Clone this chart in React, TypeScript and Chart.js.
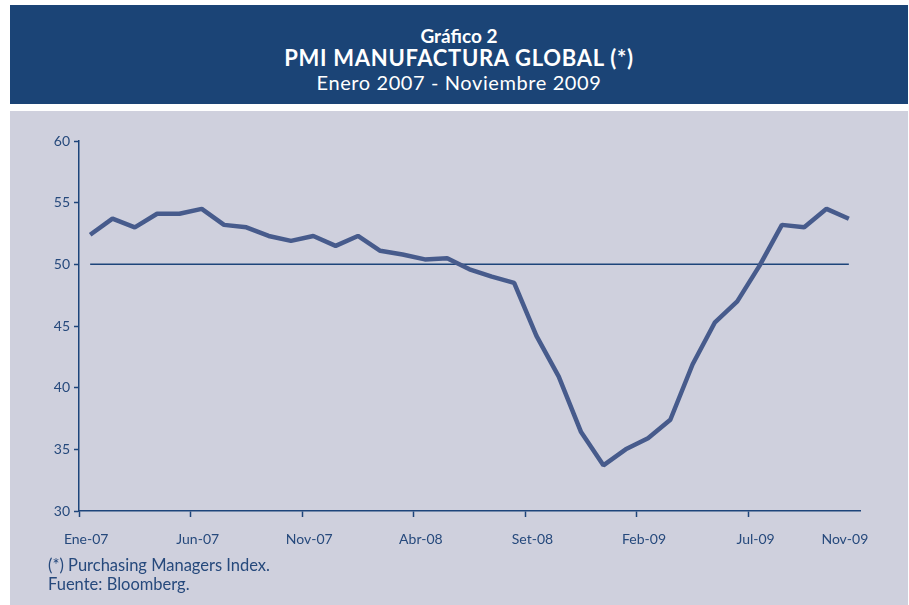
import React, { useEffect, useRef } from "react";
import { Chart, registerables } from "chart.js";

Chart.register(...registerables);

const months = [
  "Ene-07", "Feb-07", "Mar-07", "Abr-07", "May-07", "Jun-07", "Jul-07", "Ago-07", "Set-07", "Oct-07", "Nov-07", "Dic-07",
  "Ene-08", "Feb-08", "Mar-08", "Abr-08", "May-08", "Jun-08", "Jul-08", "Ago-08", "Set-08", "Oct-08", "Nov-08", "Dic-08",
  "Ene-09", "Feb-09", "Mar-09", "Abr-09", "May-09", "Jun-09", "Jul-09", "Ago-09", "Set-09", "Oct-09", "Nov-09",
];

const pmi = [
  52.4, 53.7, 53.0, 54.1, 54.1, 54.5, 53.2, 53.0, 52.3, 51.9, 52.3, 51.5,
  52.3, 51.1, 50.8, 50.4, 50.5, 49.6, 49.0, 48.5, 44.2, 40.9, 36.4, 33.7,
  35.0, 35.9, 37.4, 41.9, 45.3, 47.0, 49.9, 53.2, 53.0, 54.5, 53.7,
];

const shownTickLabels = ["Ene-07", "Jun-07", "Nov-07", "Abr-08", "Set-08", "Feb-09", "Jul-09", "Nov-09"];
const yTicks = [30, 35, 40, 45, 50, 55, 60];
const referenceLevel = 50;

const NAVY = "#1d447a";
const TEXT = "#26497c";
const LINE = "#475b8c";
const FONT = "Lato, 'Open Sans', sans-serif";

const refLinePlugin = {
  id: "refLine",
  beforeDatasetsDraw(chart: any) {
    const { ctx, scales } = chart;
    const x = scales.x;
    const y = scales.y;
    const yy = y.getPixelForValue(referenceLevel);
    ctx.save();
    ctx.strokeStyle = NAVY;
    ctx.lineWidth = 1.5;
    ctx.beginPath();
    ctx.moveTo(x.getPixelForValue(0), yy);
    ctx.lineTo(x.getPixelForValue(months.length - 1), yy);
    ctx.stroke();
    ctx.restore();
  },
};

export default function App() {
  const ref = useRef<HTMLCanvasElement>(null);

  useEffect(() => {
    if (!ref.current) return;
    const chart = new Chart(ref.current, {
      type: "line",
      data: {
        labels: months,
        datasets: [
          {
            label: "PMI",
            data: pmi,
            borderColor: LINE,
            borderWidth: 4.5,
            pointRadius: 0,
            tension: 0,
            borderJoinStyle: "bevel",
            fill: false,
          },
        ],
      },
      options: {
        animation: false,
        responsive: false,
        maintainAspectRatio: false,
        layout: { padding: { left: 0, right: 48, top: 30, bottom: 10 } },
        plugins: { legend: { display: false }, tooltip: { enabled: false }, title: { display: false } },
        scales: {
          x: {
            type: "category",
            offset: true,
            grid: {
              offset: true,
              drawOnChartArea: false,
              drawTicks: true,
              tickLength: 6,
              tickWidth: 1.5,
              tickColor: (ctx: any) => (ctx.index % 5 === 0 ? NAVY : "rgba(0,0,0,0)"),
            },
            border: { color: NAVY, width: 1.5 },
            ticks: {
              autoSkip: false,
              maxRotation: 0,
              minRotation: 0,
              padding: 14,
              labelOffset: -4,
              color: TEXT,
              font: { family: FONT, size: 14 },
              callback: (_v: any, i: number) => (shownTickLabels.includes(months[i]) ? months[i] : ""),
            },
            afterFit: (s: any) => {
              s.height = 40;
            },
          },
          y: {
            min: 30,
            max: 60,
            afterBuildTicks: (s: any) => {
              s.ticks = yTicks.map((v) => ({ value: v }));
            },
            grid: {
              drawOnChartArea: false,
              drawTicks: true,
              tickLength: 5,
              tickWidth: 1.5,
              tickColor: NAVY,
            },
            border: { color: NAVY, width: 1.5 },
            ticks: {
              padding: 4,
              color: TEXT,
              font: { family: FONT, size: 14 },
            },
            afterFit: (s: any) => {
              s.width = 69;
            },
          },
        },
      },
      plugins: [refLinePlugin],
    });
    return () => chart.destroy();
  }, []);

  return (
    <div style={{ position: "fixed", left: 0, top: 0, width: 909, height: 605, background: "#ffffff", overflow: "hidden" }}>
      <div
        style={{
          position: "absolute",
          left: 10,
          top: 5,
          width: 898,
          height: 99,
          background: "#1b4476",
          color: "#ffffff",
          fontFamily: FONT,
          textAlign: "center",
        }}
      >
        <div style={{ position: "absolute", left: 0, right: 0, top: 19, fontSize: 19, fontWeight: 700, lineHeight: "24px" }}>
          Gráfico 2
        </div>
        <div style={{ position: "absolute", left: 0, right: 0, top: 39, fontSize: 22, fontWeight: 700, lineHeight: "27px", letterSpacing: 0.7 }}>
          PMI MANUFACTURA GLOBAL (*)
        </div>
        <div style={{ position: "absolute", left: 0, right: 0, top: 65, fontSize: 20, fontWeight: 400, lineHeight: "25px", letterSpacing: 0.6 }}>
          Enero 2007 - Noviembre 2009
        </div>
      </div>
      <div style={{ position: "absolute", left: 10, top: 111, width: 898, height: 494, background: "#cfd0dd" }} />
      <canvas ref={ref} width={898} height={450} style={{ position: "absolute", left: 10, top: 111, width: 898, height: 450 }} />
      <div
        style={{
          position: "absolute",
          left: 48,
          top: 556,
          fontFamily: FONT,
          fontSize: 16.5,
          lineHeight: "19px",
          color: TEXT,
        }}
      >
        <div>(*) Purchasing Managers Index.</div>
        <div>Fuente: Bloomberg.</div>
      </div>
    </div>
  );
}
